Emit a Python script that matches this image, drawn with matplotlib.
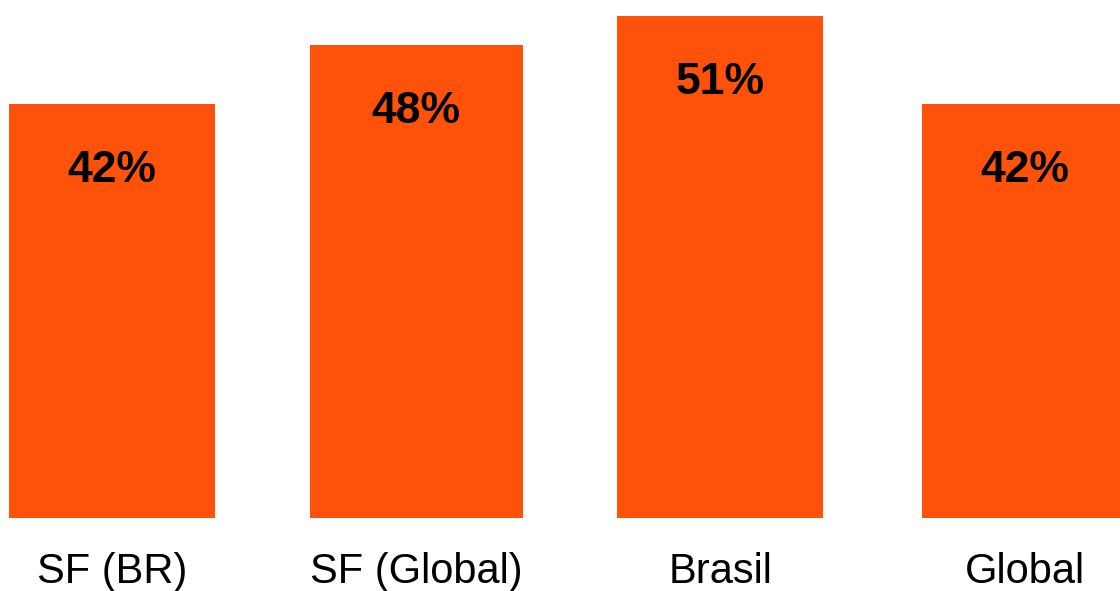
import matplotlib.pyplot as plt

# share of respondents per group
categories = ["SF (BR)", "SF (Global)", "Brasil", "Global"]
values = [42, 48, 51, 42]

plt.rcParams['font.family'] = ['Liberation Sans', 'DejaVu Sans']

fig = plt.figure(figsize=(11.2, 5.91), dpi=100)
ax = fig.add_axes([0, 0.1235, 1, 0.8765])

x = range(len(categories))
bars = ax.bar(x, values, width=[0.677, 0.70, 0.677, 0.677], color="#FE520A")

# value labels inside the top of each bar
for rect, v in zip(bars, values):
    ax.annotate("{}%".format(v),
                xy=(rect.get_x() + rect.get_width() / 2, rect.get_height()),
                xytext=(0, -56), textcoords="offset points",
                ha="center", va="baseline",
                fontsize=32, fontweight="bold", color="black")

ax.set_xlim(-0.368, 3.314)
ax.set_ylim(0, 52.6)
ax.set_xticks(list(x))
ax.set_xticklabels(categories, fontsize=30)
ax.tick_params(axis="x", length=0, pad=46.8)
for lbl in ax.get_xticklabels():
    lbl.set_va("baseline")
ax.set_yticks([])
for s in ax.spines.values():
    s.set_visible(False)

fig.savefig("out.png", dpi=100)
